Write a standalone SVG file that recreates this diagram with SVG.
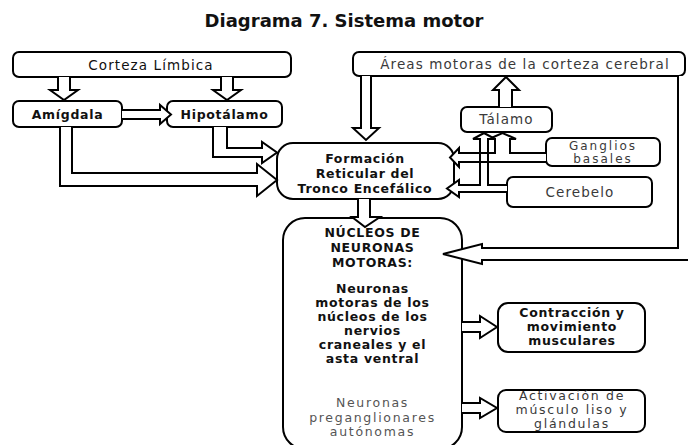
<svg xmlns="http://www.w3.org/2000/svg" width="688" height="445" viewBox="0 0 688 445">
<style>
.box{fill:#fff;stroke:#000;stroke-width:2}
.arr{fill:#fff;stroke:#000;stroke-width:2;stroke-linejoin:miter}
.arrl{fill:none;stroke:#000;stroke-width:2;stroke-linejoin:miter}
.b{font-family:"DejaVu Sans",sans-serif;font-weight:bold;font-size:12.5px;letter-spacing:0.7px;fill:#111;text-anchor:middle}
.r{font-family:"DejaVu Sans",sans-serif;font-size:13.5px;letter-spacing:1.1px;fill:#3a3a3a;text-anchor:middle}
.m{font-size:12.5px;letter-spacing:1.7px}
.s{font-size:12px;letter-spacing:2px}
.t{font-family:"DejaVu Sans",sans-serif;font-weight:bold;font-size:18px;fill:#111;text-anchor:middle}
.g{fill:#555}
</style>
<rect width="688" height="445" fill="#fff"/>
<text class="t" x="344" y="27">Diagrama 7. Sistema motor</text>

<g id="corteza-limbica"><rect class="box" x="13" y="52" width="278" height="25" rx="6"/><text class="r" x="151" y="70" style="fill:#111">Corteza Límbica</text></g>
<g id="amigdala"><rect class="box" x="13" y="101" width="109" height="26" rx="6"/><text class="b" x="67.5" y="119">Amígdala</text></g>
<g id="hipotalamo"><rect class="box" x="167" y="101" width="115" height="26" rx="6"/><text class="b" x="224.5" y="119">Hipotálamo</text></g>
<g id="areas-motoras"><rect class="box" x="353" y="52" width="332" height="24" rx="6"/><text class="r" x="525" y="69">Áreas motoras de la corteza cerebral</text></g>
<g id="talamo"><rect class="box" x="461" y="107" width="91" height="25" rx="6"/><text class="r" x="506.5" y="124">Tálamo</text></g>
<g id="ganglios-basales"><rect class="box" x="546" y="138" width="114" height="28" rx="6"/><text class="r s" x="603" y="150">Ganglios</text><text class="r s" x="603" y="163">basales</text></g>
<g id="cerebelo"><rect class="box" x="507" y="177" width="145" height="30" rx="6"/><text class="r" x="580" y="197">Cerebelo</text></g>
<g id="formacion-reticular"><rect class="box" x="277" y="143" width="177" height="56" rx="16"/><text class="b" x="365" y="163">Formación</text><text class="b" x="365" y="178">Reticular del</text><text class="b" x="365" y="192.5">Tronco Encefálico</text></g>
<g id="nucleos"><rect class="box" x="283" y="218" width="179" height="231" rx="22"/>
<text class="b" x="372.5" y="237">NÚCLEOS DE</text>
<text class="b" x="372.5" y="252">NEURONAS</text>
<text class="b" x="372.5" y="267">MOTORAS:</text>
<text class="b" x="372.5" y="293">Neuronas</text>
<text class="b" x="372.5" y="307">motoras de los</text>
<text class="b" x="372.5" y="321">núcleos de los</text>
<text class="b" x="372.5" y="335">nervios</text>
<text class="b" x="372.5" y="349">craneales y el</text>
<text class="b" x="372.5" y="363">asta ventral</text>
<text class="r m g" x="372.5" y="407">Neuronas</text>
<text class="r m g" x="372.5" y="421.5">preganglionares</text>
<text class="r m g" x="372.5" y="436">autónomas</text>
</g>
<g id="contraccion"><rect class="box" x="498" y="303" width="147" height="49" rx="10"/><text class="b" x="572" y="316.5">Contracción y</text><text class="b" x="572" y="330.5">movimiento</text><text class="b" x="572" y="344.5">musculares</text></g>
<g id="activacion"><rect class="box" x="498" y="390" width="147" height="42" rx="8"/><text class="r m" x="572" y="400">Activación de</text><text class="r m" x="572" y="414">músculo liso y</text><text class="r m" x="572" y="428">glándulas</text></g>

<g id="connectors">
<path class="arr" d="M58,77 L58,90 L50,90 L64,100 L78,90 L70,90 L70,77"/>
<path class="arr" d="M221,77 L221,90 L213,90 L227,100 L241,90 L233,90 L233,77"/>
<path class="arr" d="M122,110 L160,110 L160,105 L171,114.5 L160,124 L160,119 L122,119"/>
<path class="arr" d="M213,127 L213,157 L262,157 L262,163 L277,152.5 L262,142 L262,148 L227,148 L227,127"/>
<path class="arr" d="M60,127 L60,186 L257,186 L257,196 L277,180 L257,164 L257,173 L72,173 L72,127"/>
<path class="arr" d="M361,76 L361,128 L353,128 L366,140 L379,128 L371,128 L371,76"/>
<path class="arr" d="M499,107 L499,90 L493,90 L506,77 L519,90 L512,90 L512,107"/>
<path class="arr" d="M546,153 L510,153 L510,139 L516,139 L502.5,133 L489,139 L495,139 L495,153 L459,153 L459,148 L450,157.5 L459,167 L459,162 L546,162"/>
<path class="arr" d="M507,185 L488,185 L488,139 L495,139 L484,133 L473,139 L480,139 L480,185 L459,185 L459,180 L447,188.5 L459,197 L459,192 L507,192"/>
<path class="arrl" d="M546,153 L510,153 M495,153 L459,153 M459,162 L546,162"/>
<path class="arr" d="M358,199 L358,217 L352,217 L365,227 L380,217 L370,217 L370,199"/>
<path class="arr" d="M678,76 L678,248 L482,248 L482,244 L443,254 L482,264 L482,260 L694,260 L694,76"/>
<path class="arr" d="M462,322 L480,322 L480,316 L497,327 L480,338 L480,332 L462,332"/>
<path class="arr" d="M462,403 L480,403 L480,398 L497,408 L480,418 L480,413 L462,413"/>
</g>
</svg>
